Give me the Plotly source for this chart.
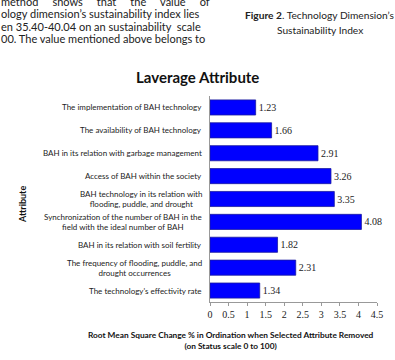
import plotly.graph_objects as go

attributes = [
    "The implementation of BAH technology",
    "The availability of BAH technology",
    "BAH in its relation with garbage management",
    "Access of BAH within the society",
    "BAH technology in its relation with<br>flooding, puddle, and drought",
    "Synchronization of the number of BAH in the<br>field with the ideal number of BAH",
    "BAH in its relation with soil fertility",
    "The frequency of flooding, puddle, and<br>drought occurrences",
    "The technology's effectivity rate",
]
rms_change = [1.23, 1.66, 2.91, 3.26, 3.35, 4.08, 1.82, 2.31, 1.34]
x_ticks = [0, 0.5, 1, 1.5, 2, 2.5, 3, 3.5, 4, 4.5]
x_tick_labels = ["0", "0.5", "1", "1.5", "2", "2.5", "3", "3.5", "4", "4.5"]

NB = "\u00a0"
paragraph_lines = [
    f"method{NB*5}shows{NB*5}that{NB*5}the{NB*5}value{NB*5}of",
    "ology dimension\u2019s sustainability index lies",
    f"en 35.40-40.04 on an sustainability{NB}{NB}scale",
    "00. The value mentioned above belongs to",
]

SANS = "Lato, 'Open Sans', sans-serif"
SERIF = "'Liberation Serif', 'DejaVu Serif', serif"

fig = go.Figure()
fig.add_trace(go.Bar(
    x=rms_change,
    y=attributes,
    orientation="h",
    marker=dict(color="#0000FF", line=dict(color="#1a1aa0", width=0.8)),
    text=[f"{v:.2f}" for v in rms_change],
    textposition="outside",
    textfont=dict(family=SERIF, size=10, color="#222"),
    cliponaxis=False,
    width=0.66,
))

annotations = []
# category labels (centered multi-line, right-aligned block)
for a in attributes:
    annotations.append(dict(
        x=0, xref="paper", xanchor="right", xshift=-6,
        y=a, yref="y", yanchor="middle",
        text=a, showarrow=False, align="center",
        font=dict(family=SANS, size=8.0, color="#222"),
    ))
# title
annotations.append(dict(x=197, y=77, text="<b>Laverage Attribute</b>",
                        showarrow=False, font=dict(family=SANS, size=15, color="#111")))
# y title
annotations.append(dict(x=22, y=205, text="<b>Attribute</b>", textangle=-90, showarrow=False,
                        font=dict(family=SANS, size=9, color="#111")))
# x title
annotations.append(dict(x=231, y=340,
                        text="<b>Root Mean Square Change % in Ordination when Selected Attribute Removed<br>(on Status scale 0 to 100)</b>",
                        showarrow=False, align="center",
                        font=dict(family=SANS, size=8.3, color="#111")))
# paragraph fragment
for i, line in enumerate(paragraph_lines):
    annotations.append(dict(x=-1, y=1.2 + 12.5 * i, xanchor="left", text=line, showarrow=False,
                            font=dict(family=SANS, size=11, color="#222")))
annotations.append(dict(x=320, y=15, text="<b>Figure 2</b>. Technology Dimension\u2019s",
                        showarrow=False, font=dict(family=SANS, size=10.2, color="#222")))
annotations.append(dict(x=320, y=30, text="Sustainability Index",
                        showarrow=False, font=dict(family=SANS, size=10.2, color="#222")))

# convert pixel annotations to paper coordinates
W, H = 395, 360
ML, MR, MT, MB = 210, 18, 96, 58
pw, ph = W - ML - MR, H - MT - MB
for ann in annotations:
    if ann.get("yref") == "y":
        continue
    px, py = ann["x"], ann["y"]
    ann["xref"] = "paper"
    ann["yref"] = "paper"
    ann["x"] = (px - ML) / pw
    ann["y"] = (H - MB - py) / ph
    ann.setdefault("yanchor", "middle")
    ann.setdefault("xanchor", "center")

fig.update_layout(
    width=W, height=H,
    margin=dict(l=ML, r=MR, t=MT, b=MB),
    paper_bgcolor="white", plot_bgcolor="white",
    showlegend=False,
    annotations=annotations,
    xaxis=dict(range=[0, 4.5], tickvals=x_ticks, ticktext=x_tick_labels,
               showgrid=False, zeroline=False, showline=True, linecolor="#999", linewidth=1,
               ticks="outside", ticklen=3, tickcolor="#999",
               tickfont=dict(family=SERIF, size=10, color="#222")),
    yaxis=dict(categoryorder="array", categoryarray=attributes, autorange="reversed",
               showticklabels=False, showgrid=False, zeroline=False,
               showline=True, linecolor="#999", linewidth=1, ticks=""),
)

fig.write_html("out.html")
